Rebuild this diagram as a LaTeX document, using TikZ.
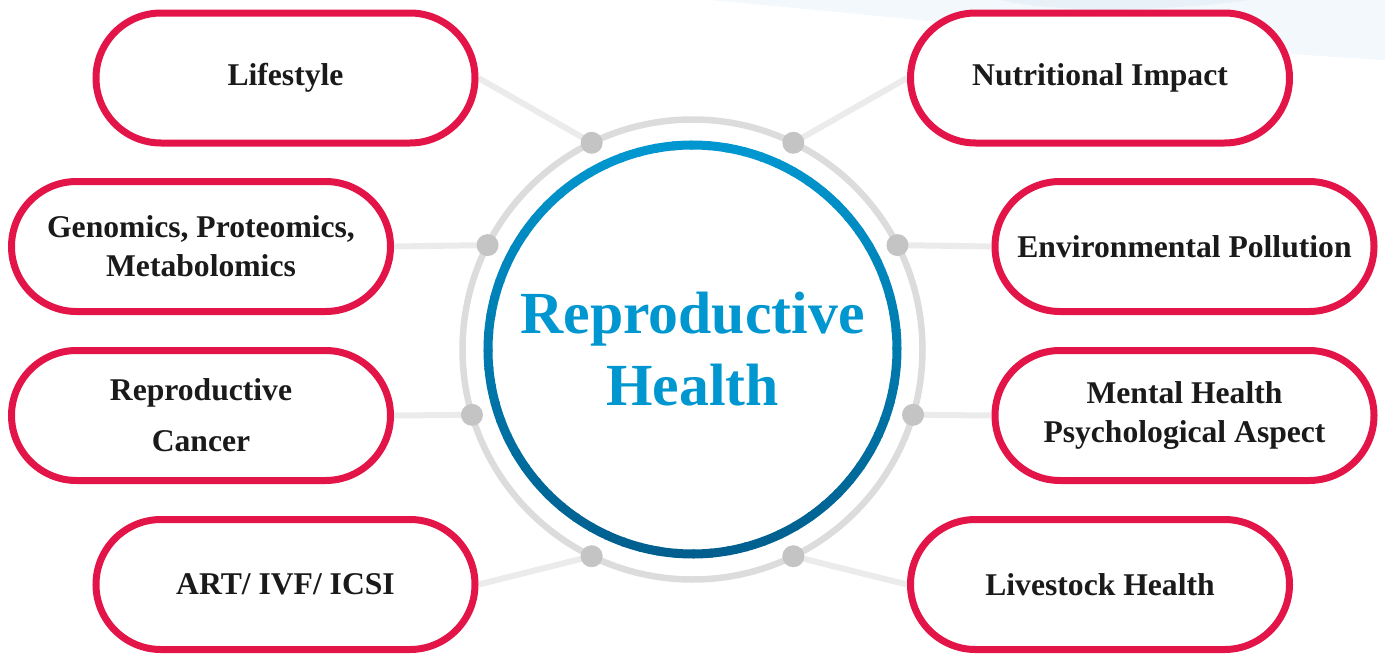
\documentclass[tikz,border=0pt]{standalone}
\usepackage{fontspec}
\setmainfont{Liberation Serif}
\usepackage{xcolor}
\usepackage{tikz}
\usetikzlibrary{backgrounds}

\definecolor{pillred}{HTML}{E31548}
\definecolor{ringgrey}{HTML}{DCDCDC}
\definecolor{linkgrey}{HTML}{EBEBEB}
\definecolor{knotgrey}{HTML}{C4C4C4}
\definecolor{bluetop}{HTML}{0097D0}
\definecolor{bluebot}{HTML}{005F8E}
\definecolor{inkdark}{HTML}{1A1A1A}
\definecolor{skyA}{HTML}{F3F8FC}
\definecolor{skyB}{HTML}{E8F1F8}

\tikzset{
	pill/.style={draw=pillred, line width=0.7mm, fill=white, rounded corners=6.5mm,
		minimum width=37.9mm, minimum height=13mm, inner sep=0pt, align=center,
		text=inkdark, font=\bfseries\fontsize{9}{11.1}\selectfont},
	link/.style={draw=linkgrey, line width=0.6mm},
	knot/.style={circle, fill=knotgrey, minimum size=2.2mm, inner sep=0pt},
}

\begin{document}
\begin{tikzpicture}
				\useasboundingbox (0, 0) rectangle (13.85, -6.55);
				
				%Sky
				\fill[skyA] (7.1, 0) .. controls (9.5, -0.22) and (12, -0.5) .. (13.85, -0.6) -- (13.85, 0) -- cycle;
				\fill[skyB] (10.0, 0) .. controls (10.6, -0.13) and (11.6, -0.12) .. (12.5, 0) -- cycle;
				
				%Hub
				\node[align=center, text=bluetop, font=\bfseries\fontsize{17}{20.5}\selectfont] (hub) at (6.925, -3.495) {Reproductive\\Health};
				
				%Ring
				\draw[ringgrey, line width=0.65mm] (hub.center) circle(2.3);
				\foreach \a in {0, 5, ..., 355} {
					\pgfmathsetmacro{\mix}{50 + 50*sin(\a + 2.5)}
					\draw[bluetop!\mix!bluebot, line width=0.9mm, shift={(hub.center)}] (\a:2.045) arc[start angle=\a, end angle=\a + 5.6, radius=2.045];
				}
				
				%Knots
				\node[knot] (k1) at ([shift={(116:2.3)}] hub.center) {};
				\node[knot] (k2) at ([shift={(153:2.3)}] hub.center) {};
				\node[knot] (k3) at ([shift={(196.5:2.3)}] hub.center) {};
				\node[knot] (k4) at ([shift={(244:2.3)}] hub.center) {};
				\node[knot] (k5) at ([shift={(64:2.3)}] hub.center) {};
				\node[knot] (k6) at ([shift={(27:2.3)}] hub.center) {};
				\node[knot] (k7) at ([shift={(-16.5:2.3)}] hub.center) {};
				\node[knot] (k8) at ([shift={(-64:2.3)}] hub.center) {};
				
				%Left
				\node[pill] (lifestyle) at (2.855, -0.78) {Lifestyle};
				\node[pill] (omics) at (2.01, -2.465) {Genomics, Proteomics,\\Metabolomics};
				\node[pill] (cancer) at (2.01, -4.155) {Reproductive\\[3.4pt]Cancer};
				\node[pill] (art) at (2.855, -5.845) {ART/ IVF/ ICSI};
				
				%Right
				\node[pill] (nutrition) at (11.0, -0.78) {Nutritional Impact};
				\node[pill] (pollution) at (11.845, -2.465) {Environmental Pollution};
				\node[pill] (mental) at (11.845, -4.155) {Mental Health\\Psychological Aspect};
				\node[pill] (livestock) at (11.0, -5.845) {Livestock Health};
				
				%Lines
				\begin{pgfonlayer}{background}
					\draw[link] (lifestyle.east) -- (k1.center);
					\draw[link] (omics.east) -- (k2.center);
					\draw[link] (cancer.east) -- (k3.center);
					\draw[link] (art.east) -- (k4.center);
					\draw[link] (nutrition.west) -- (k5.center);
					\draw[link] (pollution.west) -- (k6.center);
					\draw[link] (mental.west) -- (k7.center);
					\draw[link] (livestock.west) -- (k8.center);
				\end{pgfonlayer}
			\end{tikzpicture}
\end{document}
